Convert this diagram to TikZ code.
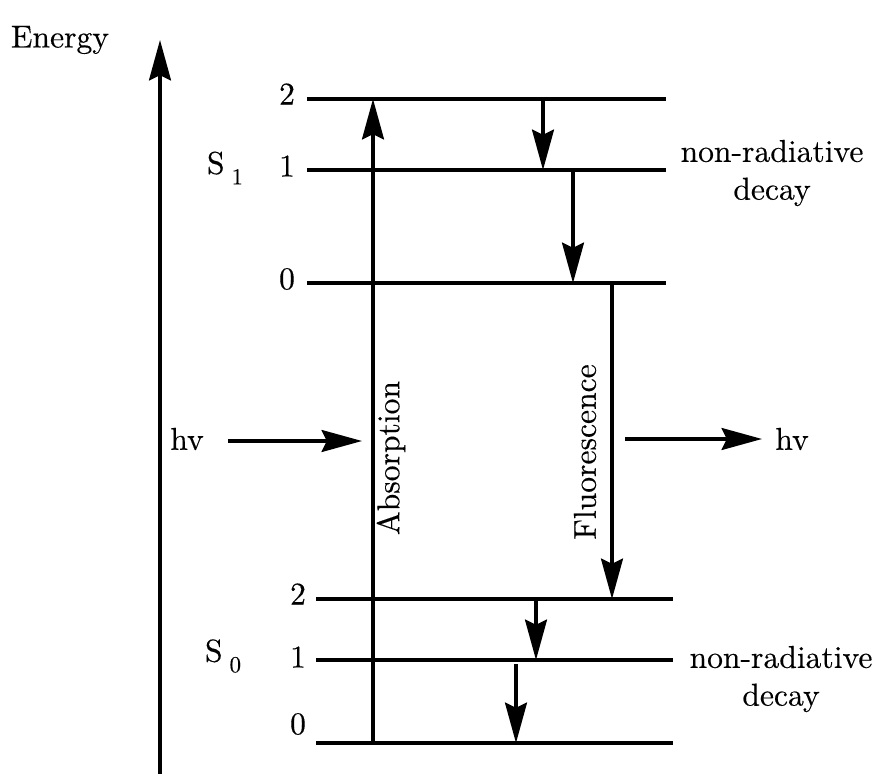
\documentclass[tikz,border=0pt]{standalone}
\usepackage{fontspec}
\usetikzlibrary{arrows.meta}
% the labels use Latin Modern 10 scaled up, not the narrow display size
\newfontfamily\labfont{lmroman10-regular.otf}[FakeBold=0.3]
\newcommand\subnum[1]{\raisebox{-6pt}{\fontsize{13}{15}\selectfont #1}}
\tikzset{
  level/.style={line width=1.9pt},
  trans/.style={line width=1.8pt,-{Stealth[length=23pt,width=12.5pt,inset=3pt]}},
  lab/.style={font={\fontsize{18}{21.5}\labfont},inner sep=0pt},
  vlab/.style={lab,rotate=90},
}
\begin{document}
\begin{tikzpicture}[x=0.02cm,y=-0.02cm]
  \useasboundingbox (0,0) rectangle (877,774);
  % energy axis
  \coordinate (E0) at (160,774);
  \coordinate (E1) at (160,40);
  \draw[trans] (E0) -- (E1);
  \node[lab] (energy) at (60,40) {Energy};
  % levels of S1 and S0, lines first
  \foreach \n/\y in {2/99,1/170,0/283}
    \draw[level] (307,\y) coordinate (ua\n) -- (666,\y) coordinate (ub\n);
  \foreach \n/\y in {2/599,1/660,0/743}
    \draw[level] (316,\y) coordinate (la\n) -- (673,\y) coordinate (lb\n);
  \foreach \n/\y in {2/94,1/166,0/279}
    \node[lab] (un\n) at (287,\y) {\n};
  \foreach \n/\y in {2/594,1/657,0/724}
    \node[lab] (ln\n) at (298,\y) {\n};
  \node[lab] (s1) at (225,168) {S\hspace{4pt}\subnum{1}};
  \node[lab] (s0) at (223,656) {S\hspace{4pt}\subnum{0}};
  % absorption and fluorescence
  \coordinate (ab0) at (373,743);
  \coordinate (ab1) at (373,99);
  \draw[trans] (ab0) -- (ab1);
  \node[vlab] (absl) at (391,458) {Absorption};
  \coordinate (fl0) at (612,283);
  \coordinate (fl1) at (612,599);
  \draw[trans] (fl0) -- (fl1);
  \node[vlab] (fluol) at (585,452) {Fluorescence};
  % non-radiative steps
  \coordinate (d1a) at (543,99);  \coordinate (d1b) at (543,170);
  \coordinate (d2a) at (573,170); \coordinate (d2b) at (573,283);
  \coordinate (d3a) at (536,601); \coordinate (d3b) at (536,660);
  \coordinate (d4a) at (516,664); \coordinate (d4b) at (516,743);
  \draw[trans] (d1a) -- (d1b);
  \draw[trans] (d2a) -- (d2b);
  \draw[trans] (d3a) -- (d3b);
  \draw[trans] (d4a) -- (d4b);
  \node[lab,align=center] (nr1) at (772,173) {non-radiative\\decay};
  \node[lab,align=center] (nr0) at (781,679) {non-radiative\\decay};
  % photons in and out
  \node[lab] (hvin) at (187,439) {hv};
  \coordinate (hvin0) at (228,441);
  \coordinate (hvin1) at (362,441);
  \draw[trans] (hvin0) -- (hvin1);
  \node[lab] (hvout) at (792,439) {hv};
  \coordinate (hvout0) at (625,439);
  \coordinate (hvout1) at (762,439);
  \draw[trans] (hvout0) -- (hvout1);
\end{tikzpicture}
\end{document}
